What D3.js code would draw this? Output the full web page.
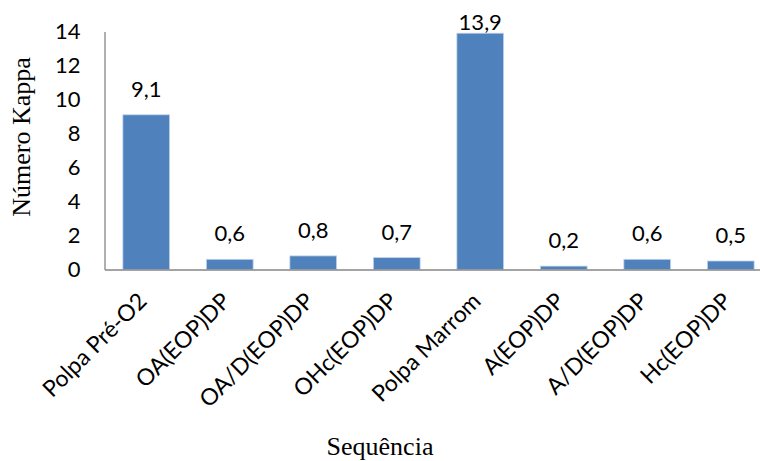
<!DOCTYPE html>
<html>
<head>
<meta charset="utf-8">
<script src="https://cdn.jsdelivr.net/npm/d3@7"></script>
<style>
  html, body { margin: 0; padding: 0; background: #ffffff; }
  svg { display: block; }
</style>
</head>
<body>
<svg id="chart" width="760" height="461"></svg>
<script>
// Kappa number per bleaching sequence
const categories = [
  "Polpa Pré-O2", "OA(EOP)DP", "OA/D(EOP)DP", "OHc(EOP)DP",
  "Polpa Marrom", "A(EOP)DP", "A/D(EOP)DP", "Hc(EOP)DP"
];
const values = [9.1, 0.6, 0.8, 0.7, 13.9, 0.2, 0.6, 0.5];
const valueLabels = ["9,1", "0,6", "0,8", "0,7", "13,9", "0,2", "0,6", "0,5"];
const yTicks = [0, 2, 4, 6, 8, 10, 12, 14];

const svg = d3.select("#chart");
const sansFont = "Lato, 'Open Sans', sans-serif";
const serifFont = "'Liberation Serif', 'Times New Roman', serif";

const plotLeft = 104.5, plotBottom = 269.5, plotTop = 31.5;
const step = 83.5;

const x = d3.scaleBand()
  .domain(categories)
  .range([plotLeft, plotLeft + step * categories.length])
  .paddingInner(0.44)
  .paddingOuter(0.22);

const y = d3.scaleLinear().domain([0, 14]).range([plotBottom, plotTop]);

// bars
svg.append("g").selectAll("rect")
  .data(values)
  .join("rect")
  .attr("x", (d, i) => x(categories[i]))
  .attr("y", d => y(d))
  .attr("width", x.bandwidth())
  .attr("height", d => y(0) - y(d))
  .attr("fill", "#4f81bd")
  .attr("stroke", "#c3d3ea")
  .attr("stroke-width", 0.8);

// y axis
const yAxis = d3.axisLeft(y).tickValues(yTicks).tickSize(0).tickPadding(24)
  .tickFormat(d3.format("d"));
const gy = svg.append("g").attr("transform", `translate(${plotLeft},0)`).call(yAxis);
gy.select(".domain").attr("stroke", "#868686").attr("stroke-width", 1.3);
gy.selectAll("text")
  .attr("font-family", sansFont)
  .attr("font-size", 22)
  .attr("fill", "#000");

// x axis
const xAxis = d3.axisBottom(x).tickSize(0).tickPadding(0);
const gx = svg.append("g").attr("transform", `translate(0,${plotBottom})`).call(xAxis);
gx.select(".domain").attr("stroke", "#868686").attr("stroke-width", 1.3);
gx.selectAll("text")
  .attr("font-family", sansFont)
  .attr("font-size", 23)
  .attr("fill", "#000")
  .attr("text-anchor", "end")
  .attr("dy", 0)
  .attr("transform", "translate(2,33) rotate(-45)");

// value labels
svg.append("g").selectAll("text")
  .data(values)
  .join("text")
  .attr("x", (d, i) => x(categories[i]) + x.bandwidth() / 2)
  .attr("y", d => Math.max(y(d) - 18, 30))
  .attr("text-anchor", "middle")
  .attr("font-family", sansFont)
  .attr("font-size", 22)
  .attr("fill", "#000")
  .text((d, i) => valueLabels[i]);

// axis titles
svg.append("text")
  .attr("transform", "translate(30,137) rotate(-90)")
  .attr("text-anchor", "middle")
  .attr("font-family", serifFont)
  .attr("font-size", 26)
  .attr("fill", "#000")
  .text("Número Kappa");

svg.append("text")
  .attr("x", 380)
  .attr("y", 455)
  .attr("text-anchor", "middle")
  .attr("font-family", serifFont)
  .attr("font-size", 26)
  .attr("fill", "#000")
  .text("Sequência");
</script>
</body>
</html>
